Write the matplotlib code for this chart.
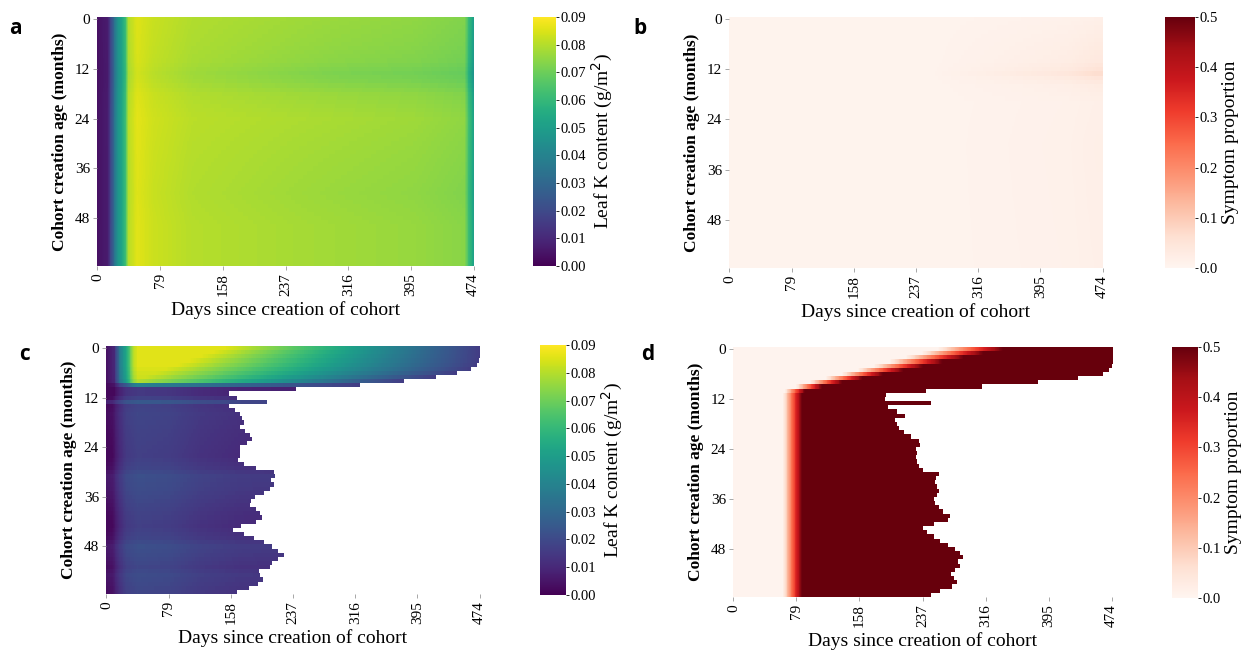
import numpy as np
import matplotlib
matplotlib.use('Agg')
import matplotlib.pyplot as plt

plt.rcParams['font.family'] = ['Liberation Serif', 'DejaVu Serif']

# grid: cohort creation age (rows) x days since creation (columns)
n_rows = 60
n_days = 475
rows = np.arange(n_rows)
days = np.arange(n_days)
x_ticks = [0, 79, 158, 237, 316, 395, 474]
y_ticks = [0, 12, 24, 36, 48]

# ---- panel a : leaf K content, column profile + row banding
a_day_knots = [0, 13, 19, 25, 32, 36, 39, 50, 70, 120, 250, 400, 463, 468, 474]
a_k_values = [0.004, 0.007, 0.025, 0.045, 0.055, 0.064, 0.080, 0.086, 0.083, 0.080, 0.078, 0.076, 0.074, 0.062, 0.052]
a_row_knots = [0, 6, 10, 13, 15, 18, 24, 32, 42, 50, 59]
a_row_shift = [-0.001, -0.002, -0.003, -0.005, -0.004, -0.001, 0.001, 0.0, -0.001, 0.0, 0.0]
a_shift_day_knots = [0, 40, 300, 474]
a_shift_weight = [0.0, 0.4, 1.0, 1.0]

# ---- panel b : symptom proportion (almost zero)
b_base = 0.006
b_day_knots = [0, 250, 350, 430, 466, 474]
b_day_ramp = [0.0, 0.0, 0.3, 0.6, 1.0, 1.0]
b_row_knots = [0, 5, 10, 12, 13, 14, 16, 20, 30, 59]
b_row_peak = [0.01, 0.02, 0.03, 0.045, 0.06, 0.04, 0.02, 0.01, 0.012, 0.01]

# ---- panel c : leaf K content, with leaf fall (white) after cutoff day
c_cutoff = [474, 474, 474, 473, 470, 462, 445, 418, 378, 322,
            240, 155, 165, 203, 155, 163, 169, 172, 174, 169,
            176, 182, 184, 178, 169, 169, 169, 167, 174, 190,
            212, 214, 208, 212, 207, 200, 188, 183, 182, 189,
            195, 197, 190, 170, 160, 174, 187, 200, 210, 218,
            225, 217, 210, 207, 193, 194, 198, 192, 180, 165]
c_top_day_knots = [0, 10, 18, 26, 34, 40]
c_top_values = [0.004, 0.010, 0.040, 0.055, 0.080, 0.086]
c_top_peak = [0.086, 0.086, 0.086, 0.086, 0.086, 0.085, 0.084, 0.083, 0.080, 0.040]
c_top_fade_start = [150, 135, 120, 105, 90, 75, 62, 50, 40, 40]
c_fade_end = 0.016
c_low_day_knots = [0, 8, 15, 25, 40, 80, 120, 170, 240]
c_low_values = [0.003, 0.004, 0.011, 0.017, 0.019, 0.018, 0.015, 0.013, 0.012]
c_low_row_knots = [10, 11, 12, 13, 14, 16, 20, 26, 29, 31, 34, 36, 40, 43, 46, 48, 50, 53, 55, 57, 59]
c_low_row_shift = [-0.004, -0.004, -0.001, 0.006, -0.001, 0.0, -0.001, -0.002, 0.0, 0.003, 0.002,
                   0.001, -0.001, -0.002, 0.0, 0.003, 0.002, 0.0, 0.002, 0.001, 0.0]

# ---- panel d : symptom proportion, onset day and leaf fall
d_cutoff = [474, 474, 474, 474, 473, 469, 462, 430, 380, 310,
            240, 190, 189, 246, 193, 204, 214, 202, 204, 207,
            213, 222, 231, 233, 228, 229, 228, 229, 231, 237,
            256, 253, 252, 254, 257, 254, 250, 252, 256, 262,
            270, 268, 250, 236, 241, 250, 258, 268, 276, 283,
            287, 280, 283, 277, 271, 275, 279, 273, 258, 247]
d_onset = [345, 320, 295, 268, 243, 218, 192, 166, 140, 114, 92] + [88] * 49
d_light_end = [255, 235, 215, 195, 175, 155, 135, 115, 95, 78, 64] + [62] * 49


def masked(grid, cutoff):
    out = grid.copy()
    out[days[None, :] > np.array(cutoff)[:, None]] = np.nan
    return out


# panel a grid
a_col = np.interp(days, a_day_knots, a_k_values)
a_shift = np.interp(rows, a_row_knots, a_row_shift)
a_w = np.interp(days, a_shift_day_knots, a_shift_weight)
grid_a = a_col[None, :] + a_shift[:, None] * a_w[None, :]

# panel b grid
b_ramp = np.interp(days, b_day_knots, b_day_ramp)
b_peak = np.interp(rows, b_row_knots, b_row_peak)
grid_b = b_base + b_peak[:, None] * b_ramp[None, :]

# panel c grid
grid_c = np.zeros((n_rows, n_days))
low_col = np.interp(days, c_low_day_knots, c_low_values)
low_shift = np.interp(rows, c_low_row_knots, c_low_row_shift)
for r in rows:
    if r < len(c_top_peak):
        rise = np.interp(days, c_top_day_knots, c_top_values) * c_top_peak[r] / 0.086
        fade = np.interp(days, [c_top_fade_start[r], c_cutoff[r]], [c_top_peak[r], c_fade_end])
        grid_c[r] = np.minimum(rise, fade)
    else:
        grid_c[r] = low_col + low_shift[r]
grid_c = masked(np.clip(grid_c, 0.002, None), c_cutoff)

# panel d grid
grid_d = np.zeros((n_rows, n_days))
for r in rows:
    grid_d[r] = np.interp(days, [0, d_light_end[r], d_onset[r], 474],
                          [0.005, 0.005, 0.55, 0.55])
grid_d = masked(grid_d, d_cutoff)

W, H = 1247, 655
fig = plt.figure(figsize=(W / 100, H / 100), dpi=100)


def rect(x0, x1, y0, y1):
    return [x0 / W, 1 - y1 / H, (x1 - x0) / W, (y1 - y0) / H]


def panel(grid, ax_box, cb_box, cmap, vmax, cb_ticks, cb_fmt, cb_label, letter, letter_xy):
    ax = fig.add_axes(rect(*ax_box))
    im = ax.imshow(grid, cmap=cmap, vmin=0, vmax=vmax, aspect='auto',
                   interpolation='nearest', extent=(0, n_days, n_rows, 0))
    ax.set_xticks(np.array(x_ticks) + 0.5)
    ax.set_xticklabels([str(t) for t in x_ticks], rotation=90, fontsize=11)
    ax.set_yticks(np.array(y_ticks) + 0.5)
    ax.set_yticklabels([str(t) for t in y_ticks], fontsize=11)
    ax.tick_params(length=3, width=0.6, color='#999999', pad=2)
    for s in ax.spines.values():
        s.set_visible(False)
    ax.set_xlabel('Days since creation of cohort', fontsize=14, labelpad=4)
    ax.set_ylabel('Cohort creation age (months)', fontsize=12.5, fontweight='bold', labelpad=5)
    cax = fig.add_axes(rect(*cb_box))
    cb = fig.colorbar(im, cax=cax, ticks=cb_ticks)
    cb.outline.set_visible(False)
    cb.ax.set_yticklabels([cb_fmt.format(t) for t in cb_ticks], fontsize=10.5)
    cb.ax.tick_params(length=2, width=0.6, pad=1)
    cb.set_label(cb_label, fontsize=14, labelpad=3)
    fig.text(letter_xy[0] / W, 1 - letter_xy[1] / H, letter, fontsize=15, fontweight='bold',
             family=['Open Sans', 'DejaVu Sans'], ha='center', va='center')


k_ticks = [0.00, 0.01, 0.02, 0.03, 0.04, 0.05, 0.06, 0.07, 0.08, 0.09]
s_ticks = [0.0, 0.1, 0.2, 0.3, 0.4, 0.5]
k_label = 'Leaf K content (g/m$^2$)'
s_label = 'Symptom proportion'

panel(grid_a, (97, 474, 17, 266), (533, 556, 17, 266), 'viridis', 0.09, k_ticks, '{:.2f}', k_label, 'a', (15, 28))
panel(grid_b, (729, 1103, 17, 268), (1165, 1195, 17, 268), 'Reds', 0.5, s_ticks, '{:.1f}', s_label, 'b', (640, 28))
panel(grid_c, (106, 480, 346, 594), (540, 566, 345, 595), 'viridis', 0.09, k_ticks, '{:.2f}', k_label, 'c', (25, 355))
panel(grid_d, (733, 1112, 347, 597), (1172, 1198, 347, 598), 'Reds', 0.5, s_ticks, '{:.1f}', s_label, 'd', (648, 355))

fig.savefig('out.png', dpi=100)
